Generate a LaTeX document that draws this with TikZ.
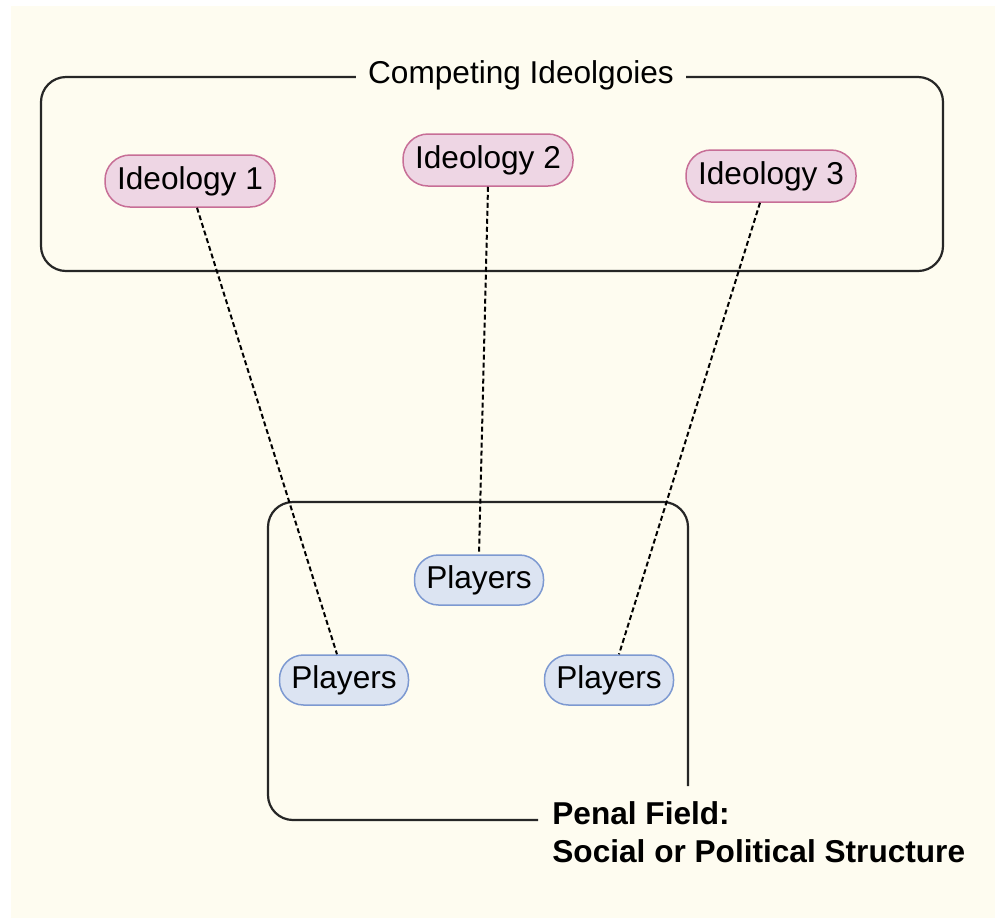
\documentclass[tikz,border=0pt]{standalone}
\usepackage{fontspec}
\setmainfont{Liberation Sans}
\newlength{\du}
\setlength{\du}{0.5pt}
\definecolor{papercolor}{rgb}{0.996, 0.988, 0.941}
\definecolor{ideafill}{rgb}{0.933, 0.839, 0.894}
\definecolor{ideadraw}{rgb}{0.780, 0.430, 0.590}
\definecolor{playerfill}{rgb}{0.863, 0.894, 0.949}
\definecolor{playerdraw}{rgb}{0.490, 0.600, 0.820}
\definecolor{dialinecolor}{rgb}{0.150, 0.150, 0.150}
\tikzset{
  labelfont/.style={font=\fontsize{15.8}{19}\selectfont},
  ideology/.style={labelfont, draw=ideadraw, fill=ideafill, line width=0.75pt,
    rounded corners=25\du, minimum width=170\du, minimum height=52\du, inner sep=0pt},
  player/.style={labelfont, draw=playerdraw, fill=playerfill, line width=0.75pt,
    rounded corners=24\du, minimum width=129\du, minimum height=50\du, inner sep=0pt},
  fieldbox/.style={draw=dialinecolor, line width=1.1pt, rounded corners=25\du},
  link/.style={draw=black, line width=1pt, dash pattern=on 2.5pt off 1.5pt}
}
\begin{document}
\begin{tikzpicture}
\pgftransformxscale{1.000000}
\pgftransformyscale{-1.000000}
\useasboundingbox (0\du,0\du) rectangle (995\du,918\du);
\fill[papercolor] (11\du,6\du) rectangle (995\du,918\du);
% ideologies
\draw[fieldbox] (41\du,77\du) rectangle (943\du,271\du);
\node[labelfont, fill=papercolor, inner xsep=6pt, inner ysep=2pt] (title) at (521\du,75\du){Competing Ideolgoies};
\node[ideology] (idea1) at (190\du,181\du){Ideology 1};
\node[ideology] (idea2) at (488\du,160\du){Ideology 2};
\node[ideology] (idea3) at (771\du,176\du){Ideology 3};
% penal field
\node[anchor=west, align=left, inner sep=0pt, font=\fontsize{15.8}{19}\selectfont\bfseries] (field) at (552\du,832\du){Penal Field:\\Social or Political Structure};
\coordinate (fieldend) at (538\du,820\du);
\coordinate (fieldtop) at (688\du,786\du);
\draw[fieldbox] (fieldend)--(268\du,820\du)--(268\du,502\du)--(688\du,502\du)--(fieldtop);
\node[player] (play1) at (344\du,680\du){Players};
\node[player] (play2) at (479\du,580\du){Players};
\node[player] (play3) at (609\du,680\du){Players};
% links
\draw[link] ([xshift=7\du]idea1.south)--([xshift=-7\du]play1.north);
\draw[link] (idea2.south)--(play2.north);
\draw[link] ([xshift=-11\du]idea3.south)--([xshift=10\du]play3.north);
\end{tikzpicture}
\end{document}
